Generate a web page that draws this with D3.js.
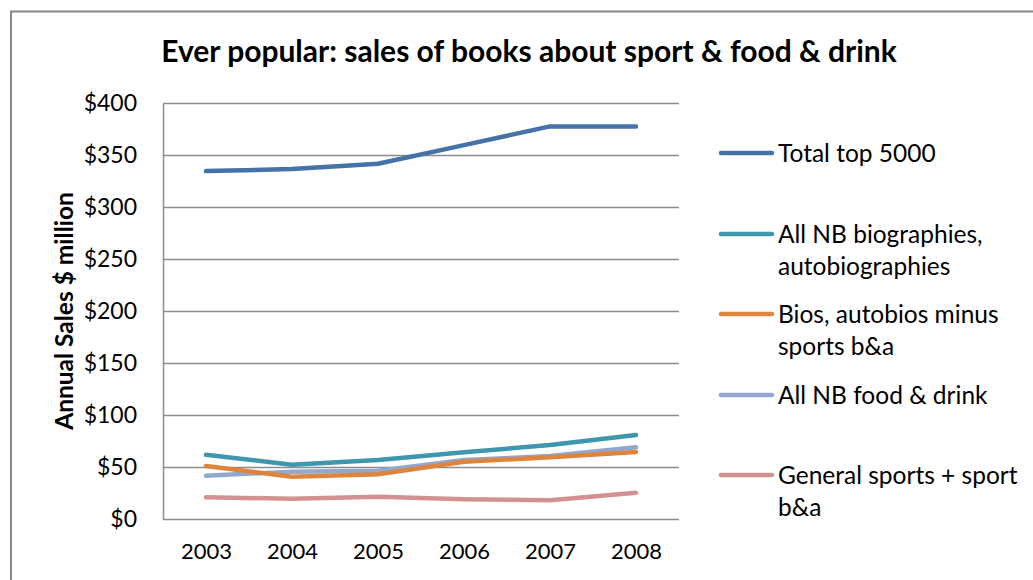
<!DOCTYPE html>
<html>
<head>
<meta charset="utf-8">
<script src="https://cdn.jsdelivr.net/npm/d3@7/dist/d3.min.js"></script>
<style>
  html, body { margin: 0; padding: 0; background: #fff; }
  svg { display: block; }
  text { font-family: Lato, "Open Sans", sans-serif; fill: #000; }
</style>
</head>
<body>
<script>
// Sales of top-5000 books by category, $ million
const years = ["2003", "2004", "2005", "2006", "2007", "2008"];
const seriesNames = [
  "Total top 5000",
  "All NB biographies, autobiographies",
  "Bios, autobios minus sports b&a",
  "All NB food & drink",
  "General sports + sport b&a"
];
const totalTop5000   = [335, 337, 342, 360, 378, 378];
const allBiographies = [62.3, 52.7, 57.2, 64.6, 71.6, 81.3];
const biosMinusSport = [51.4, 41.2, 43.5, 55.6, 59.8, 64.9];
const foodAndDrink   = [42.1, 46.0, 46.9, 57.2, 61.0, 69.4];
const generalSports  = [21.3, 20.0, 21.9, 19.4, 18.5, 25.8];
const yTicks = [0, 50, 100, 150, 200, 250, 300, 350, 400];

// legend label lines (wrapped as in the legend box)
const legendLines = [
  ["Total top 5000"],
  ["All NB biographies,", "autobiographies"],
  ["Bios, autobios minus", "sports b&a"],
  ["All NB food & drink"],
  ["General sports + sport", "b&a"]
];
const colors = ["#4572A7", "#3F97AE", "#DE853D", "#93A8CF", "#D39191"];
const seriesValues = [totalTop5000, allBiographies, biosMinusSport, foodAndDrink, generalSports];

const W = 1033, H = 580;
const plot = { left: 163, right: 679, top: 103.5, bottom: 519.5 };

const svg = d3.select("body").append("svg")
  .attr("width", W).attr("height", H);

// chart frame
svg.append("rect")
  .attr("x", 11).attr("y", 11.5)
  .attr("width", W + 20).attr("height", H + 20)
  .attr("fill", "#fff").attr("stroke", "#868686").attr("stroke-width", 2);

const x = d3.scalePoint().domain(years).range([plot.left, plot.right]).padding(0.5);
const y = d3.scaleLinear().domain([0, 400]).range([plot.bottom, plot.top]);

// horizontal gridlines
svg.append("g")
  .selectAll("line").data(yTicks.filter(d => d > 0)).join("line")
  .attr("x1", plot.left).attr("x2", plot.right)
  .attr("y1", d => y(d)).attr("y2", d => y(d))
  .attr("stroke", "#8c8c8c").attr("stroke-width", 1.5);

// y axis
const yAxis = svg.append("g")
  .attr("transform", `translate(${plot.left},0)`)
  .call(d3.axisLeft(y).tickValues(yTicks).tickSize(0).tickPadding(26)
    .tickFormat(d => "$" + d));
yAxis.select(".domain").attr("stroke", "#8c8c8c").attr("stroke-width", 1.5);
yAxis.selectAll("text")
  .attr("font-size", 23).attr("font-family", "Lato, sans-serif").attr("fill", "#000");

// x axis
const xAxis = svg.append("g")
  .attr("transform", `translate(0,${plot.bottom})`)
  .call(d3.axisBottom(x).tickSize(0).tickPadding(24));
xAxis.select(".domain").attr("stroke", "#8c8c8c").attr("stroke-width", 1.5)
  .attr("d", `M${plot.left},0H${plot.right}`);
xAxis.selectAll("text")
  .attr("font-size", 22).attr("font-family", "Lato, sans-serif").attr("fill", "#000");

// series lines (drawn bottom series first so the total sits on top)
const line = d3.line().x((d, i) => x(years[i])).y(d => y(d));
const order = [4, 3, 2, 1, 0];
svg.append("g")
  .selectAll("path").data(order).join("path")
  .attr("d", k => line(seriesValues[k]))
  .attr("fill", "none")
  .attr("stroke", k => colors[k])
  .attr("stroke-width", 4.5)
  .attr("stroke-linecap", "round")
  .attr("stroke-linejoin", "round");

// title
svg.append("text")
  .attr("x", 529).attr("y", 62)
  .attr("text-anchor", "middle")
  .attr("font-size", 30).attr("font-weight", "bold")
  .text("Ever popular: sales of books about sport & food & drink");

// y axis title
svg.append("text")
  .attr("transform", "translate(73,311) rotate(-90)")
  .attr("text-anchor", "middle")
  .attr("font-size", 24.5).attr("font-weight", "bold")
  .text("Annual Sales $ million");

// legend
const legendY = [153, 234, 314, 395, 475];
const lg = svg.append("g");
legendLines.forEach((lines, i) => {
  lg.append("line")
    .attr("x1", 721).attr("x2", 772)
    .attr("y1", legendY[i]).attr("y2", legendY[i])
    .attr("stroke", colors[i]).attr("stroke-width", 4.5)
    .attr("stroke-linecap", "round");
  const t = lg.append("text")
    .attr("x", 778).attr("y", legendY[i] + 8.5)
    .attr("font-size", 24.5);
  lines.forEach((s, j) => {
    t.append("tspan").attr("x", 778).attr("dy", j === 0 ? 0 : 32.5).text(s);
  });
});
</script>
</body>
</html>
